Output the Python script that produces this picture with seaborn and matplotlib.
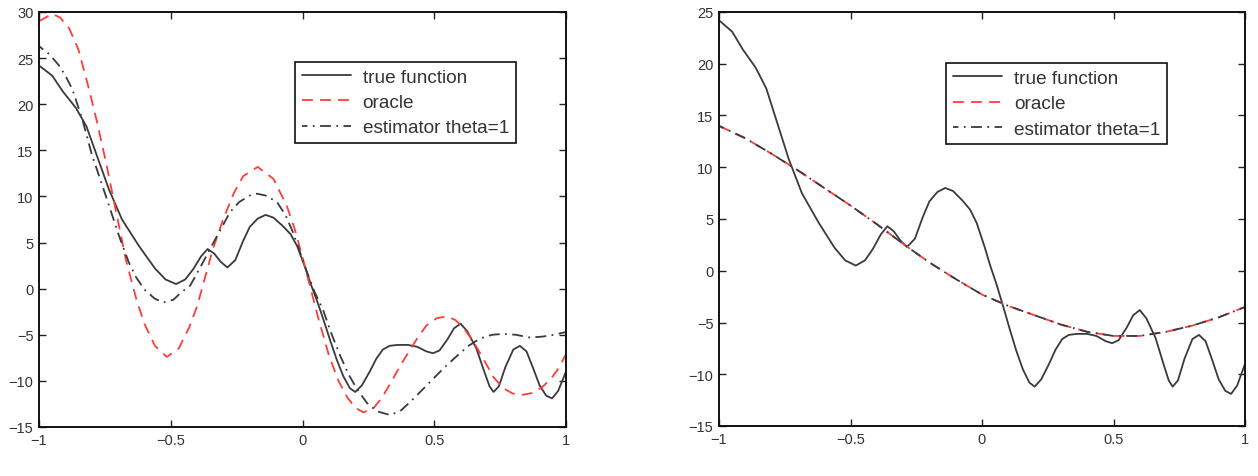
import numpy as np
import seaborn as sns
import matplotlib
matplotlib.use("Agg")
import matplotlib.pyplot as plt

# values
true_x = [-1.0, -0.95, -0.91, -0.86, -0.82, -0.785, -0.735, -0.685, -0.62, -0.56,
          -0.52, -0.48, -0.445, -0.415, -0.385, -0.36, -0.335, -0.31, -0.285, -0.255,
          -0.225, -0.2, -0.17, -0.14, -0.11, -0.075, -0.045, -0.02, 0.01, 0.03,
          0.055, 0.08, 0.105, 0.13, 0.155, 0.18, 0.2, 0.225, 0.255, 0.28,
          0.305, 0.33, 0.36, 0.4, 0.435, 0.47, 0.495, 0.52, 0.55, 0.575,
          0.6, 0.625, 0.66, 0.69, 0.71, 0.725, 0.745, 0.77, 0.8, 0.825,
          0.85, 0.875, 0.9, 0.925, 0.947, 0.97, 1.0]
true_y = [24.2, 23.1, 21.4, 19.6, 17.6, 14.8, 10.8, 7.5, 4.6, 2.2,
          1.0, 0.5, 1.0, 2.1, 3.5, 4.3, 3.8, 2.9, 2.3, 3.1,
          5.2, 6.7, 7.6, 8.0, 7.7, 6.8, 5.9, 4.6, 2.3, 0.6,
          -1.3, -3.4, -5.6, -7.7, -9.5, -10.8, -11.2, -10.5, -9.0, -7.6,
          -6.6, -6.2, -6.1, -6.1, -6.3, -6.8, -7.0, -6.7, -5.5, -4.3,
          -3.8, -4.6, -6.5, -9.0, -10.6, -11.2, -10.6, -8.5, -6.6, -6.2,
          -6.8, -8.6, -10.5, -11.6, -11.9, -11.1, -9.0]

oracle_x = [-1.0, -0.95, -0.92, -0.885, -0.85, -0.81, -0.78, -0.745, -0.71, -0.67,
            -0.63, -0.6, -0.56, -0.515, -0.47, -0.43, -0.4, -0.34, -0.3, -0.26,
            -0.225, -0.17, -0.11, -0.06, -0.03, 0.0, 0.03, 0.06, 0.1, 0.135,
            0.17, 0.2, 0.23, 0.265, 0.3, 0.335, 0.37, 0.4, 0.435, 0.47,
            0.51, 0.548, 0.58, 0.61, 0.65, 0.686, 0.725, 0.762, 0.8, 0.837,
            0.875, 0.913, 0.95, 0.975, 1.0]
oracle_y = [29.0, 29.8, 29.4, 28.2, 25.9, 21.6, 18.1, 13.6, 8.7, 3.1,
            -1.2, -3.8, -6.2, -7.4, -6.5, -4.2, -1.9, 4.3, 7.6, 10.4,
            12.2, 13.2, 11.9, 9.0, 6.5, 3.4, 0.1, -3.2, -7.2, -9.9,
            -11.8, -12.9, -13.4, -13.1, -11.9, -10.2, -8.4, -7.0, -5.4, -4.0,
            -3.2, -3.0, -3.4, -4.2, -5.8, -7.6, -9.6, -10.8, -11.4, -11.5,
            -11.3, -10.6, -9.5, -8.5, -7.1]

est_x = [-1.0, -0.96, -0.924, -0.9, -0.873, -0.836, -0.8, -0.747, -0.696, -0.66,
         -0.633, -0.6, -0.56, -0.528, -0.49, -0.46, -0.427, -0.39, -0.351, -0.313,
         -0.275, -0.24, -0.2, -0.173, -0.14, -0.097, -0.065, -0.036, -0.01, 0.017,
         0.045, 0.078, 0.11, 0.142, 0.175, 0.207, 0.245, 0.283, 0.332, 0.37,
         0.408, 0.45, 0.495, 0.54, 0.586, 0.63, 0.674, 0.72, 0.762, 0.81,
         0.863, 0.91, 0.955, 1.0]
est_y = [26.3, 25.4, 24.2, 23.1, 21.6, 18.4, 14.6, 10.1, 5.7, 2.9,
         1.3, -0.1, -1.1, -1.5, -1.2, -0.4, 0.3, 2.2, 4.3, 6.3,
         8.3, 9.4, 10.1, 10.3, 10.1, 9.4, 8.0, 6.1, 4.0, 1.8,
         -0.3, -2.3, -4.9, -7.2, -9.3, -10.9, -12.4, -13.3, -13.7, -13.3,
         -12.3, -11.1, -9.8, -8.5, -7.3, -6.2, -5.4, -5.0, -4.9, -5.0,
         -5.3, -5.2, -5.0, -4.7]

# right panel: oracle and estimator lie on top of each other
fit2_x = [-1.0, -0.9, -0.8, -0.7, -0.6, -0.5, -0.4, -0.3, -0.2, -0.1,
          0.0, 0.1, 0.2, 0.3, 0.4, 0.5, 0.6, 0.7, 0.8, 0.9, 1.0]
oracle2_y = [14.0, 12.8, 11.3, 9.7, 8.0, 6.3, 4.5, 2.6, 0.8, -0.8,
             -2.3, -3.4, -4.3, -5.2, -5.9, -6.3, -6.3, -5.9, -5.3, -4.5, -3.5]
est2_y = [14.0, 12.8, 11.3, 9.7, 8.0, 6.3, 4.5, 2.6, 0.8, -0.8,
          -2.3, -3.4, -4.3, -5.2, -5.9, -6.3, -6.3, -5.9, -5.3, -4.5, -3.5]

xticks = [-1, -0.5, 0, 0.5, 1]
xlabels = ["\u22121", "\u22120.5", "0", "0.5", "1"]
yticks1 = [-15, -10, -5, 0, 5, 10, 15, 20, 25, 30]
yticks2 = [-15, -10, -5, 0, 5, 10, 15, 20, 25]

sns.set_style("ticks")
plt.rcParams['font.family'] = ['Liberation Sans', 'DejaVu Sans']

fig = plt.figure(figsize=(12.58, 4.77), dpi=100)
ax1 = fig.add_axes([39 / 1258, 1 - 428 / 477, 527 / 1258, 415 / 477])
ax2 = fig.add_axes([719 / 1258, 1 - 427 / 477, 526 / 1258, 414 / 477])

true_col = "#3a3a3a"
red = "#ff3b3b"
dark = "#3a3a3a"


def draw(ax, ox, oy, ex, ey, yticks, ylim, anchor):
    sns.lineplot(x=true_x, y=true_y, ax=ax, color=true_col, linewidth=1.3,
                 label="true function")
    sns.lineplot(x=ox, y=oy, ax=ax, color=red, linewidth=1.3,
                 linestyle=(0, (6, 4)), label="oracle")
    sns.lineplot(x=ex, y=ey, ax=ax, color=dark, linewidth=1.3,
                 linestyle=(3, (6, 3, 1, 3)), label="estimator theta=1")
    ax.set_xlim(-1, 1)
    ax.set_ylim(*ylim)
    ax.set_xticks(xticks)
    ax.set_xticklabels(xlabels)
    ax.set_yticks(yticks)
    ax.set_yticklabels([str(t).replace("-", "\u2212") for t in yticks])
    ax.tick_params(axis="both", which="major", direction="in", length=5, width=1,
                   top=True, right=True, labelsize=10.5, labelcolor="#333333",
                   color="#222222", pad=4)
    for s in ax.spines.values():
        s.set_linewidth(1.4)
        s.set_color("#111111")
    ax.set_xlabel("")
    ax.set_ylabel("")
    leg = ax.legend(loc="upper left", bbox_to_anchor=anchor, borderaxespad=0,
                    fontsize=13.7, frameon=True, fancybox=False, framealpha=1,
                    edgecolor="#111111", handlelength=2.6, handletextpad=0.6,
                    labelspacing=0.42, borderpad=0.35)
    leg.get_frame().set_linewidth(1.2)
    for t in leg.get_texts():
        t.set_color("#333333")


draw(ax1, oracle_x, oracle_y, est_x, est_y, yticks1, (-15, 30), (0.486, 0.88))
draw(ax2, fit2_x, oracle2_y, fit2_x, est2_y, yticks2, (-15, 25), (0.432, 0.877))

fig.savefig("out.png", dpi=100)
